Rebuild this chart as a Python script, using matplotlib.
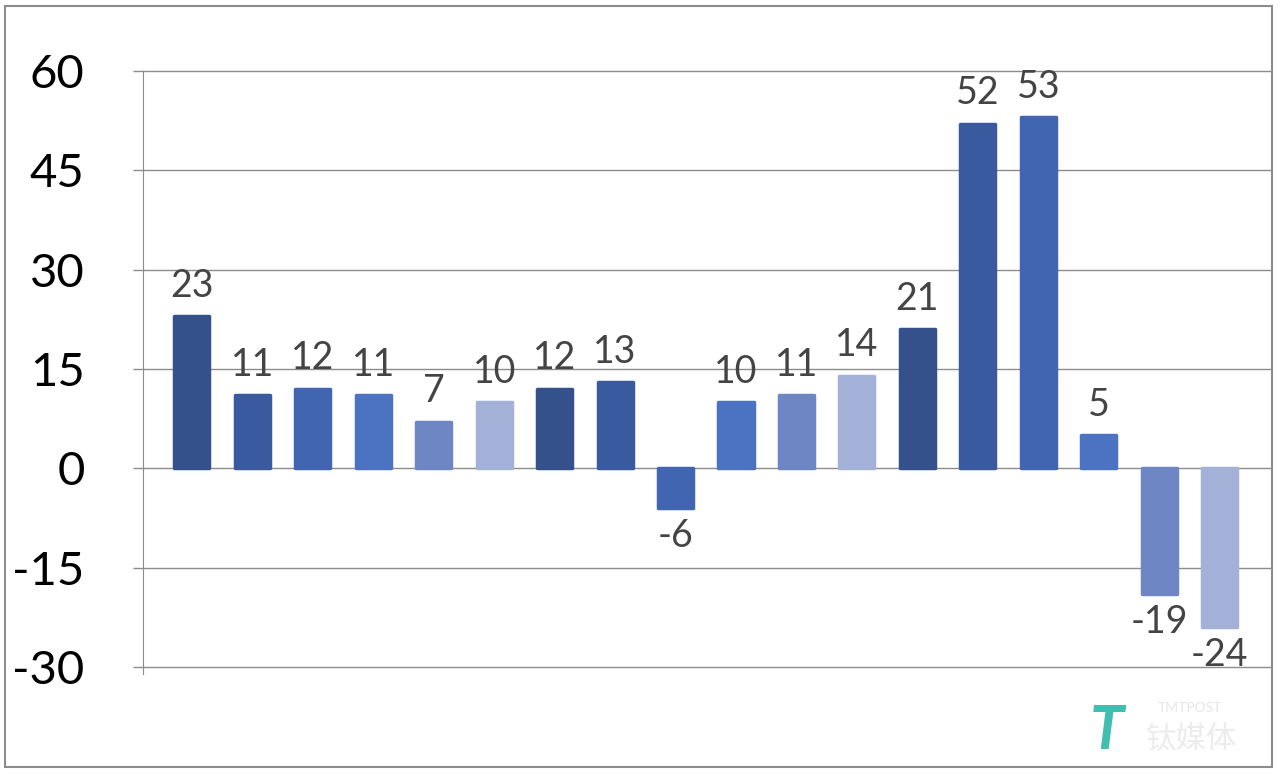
import matplotlib.pyplot as plt
from matplotlib.patches import Rectangle

# values, one bar per category
values = [23, 11, 12, 11, 7, 10, 12, 13, -6, 10, 11, 14, 21, 52, 53, 5, -19, -24]
palette = ["#35518b", "#3a5aa0", "#4165b0", "#4b73c2", "#6e87c4", "#a3b0d7"]
yticks = [-30, -15, 0, 15, 30, 45, 60]

plt.rcParams['font.family'] = ['Lato', 'DejaVu Sans']

fig = plt.figure(figsize=(12.8, 7.74), dpi=100)
ax = fig.add_axes([0.1117, 0.1382, 0.8803, 0.7701])

x = list(range(len(values)))
colors = [palette[i % len(palette)] for i in x]
ax.bar(x, values, width=0.58, color=colors, edgecolor=colors, linewidth=2.5,
       joinstyle='round', zorder=3)

for xi, v in zip(x, values):
    if v >= 0:
        ax.annotate(str(v), (xi, v), xytext=(0, 9), textcoords='offset points',
                    ha='center', va='bottom', fontsize=27, color='#444444')
    else:
        ax.annotate(str(v), (xi, v), xytext=(0, -7), textcoords='offset points',
                    ha='center', va='top', fontsize=27, color='#444444')

ax.set_ylim(-30, 60)
ax.set_xlim(-0.81, 17.83)
ax.set_yticks(yticks)
ax.set_yticklabels([str(t) for t in yticks], fontsize=34, color='black')
ax.set_xticks([])
ax.yaxis.grid(True, color='#8c8c8c', linewidth=1, zorder=0)
for line in ax.get_ygridlines():
    line.set_clip_on(False)
ax.tick_params(axis='y', length=7, width=1, color='#8c8c8c', pad=35)
for side in ['top', 'right', 'bottom']:
    ax.spines[side].set_visible(False)
ax.spines['left'].set_color('#8c8c8c')
ax.spines['left'].set_bounds(-31, 60)

# outer frame
fig.patches.append(Rectangle((0.004, 0.009), 0.990, 0.983, transform=fig.transFigure,
                             fill=False, edgecolor='#8c8c8c', linewidth=1.5))

# watermark
fig.text(0.865, 0.055, "T", fontsize=44, fontweight='bold', style='italic',
         color='#2bb8a8', ha='center', va='center', alpha=0.9)
fig.text(0.93, 0.085, "TMTPOST", fontsize=10, color='#e6e6e6', ha='center', va='center')
fig.text(0.93, 0.045, "钛媒体", fontsize=22, color='#ececec', ha='center', va='center',
         family=['Noto Sans CJK SC', 'DejaVu Sans'])

fig.savefig("out.png", dpi=100)
